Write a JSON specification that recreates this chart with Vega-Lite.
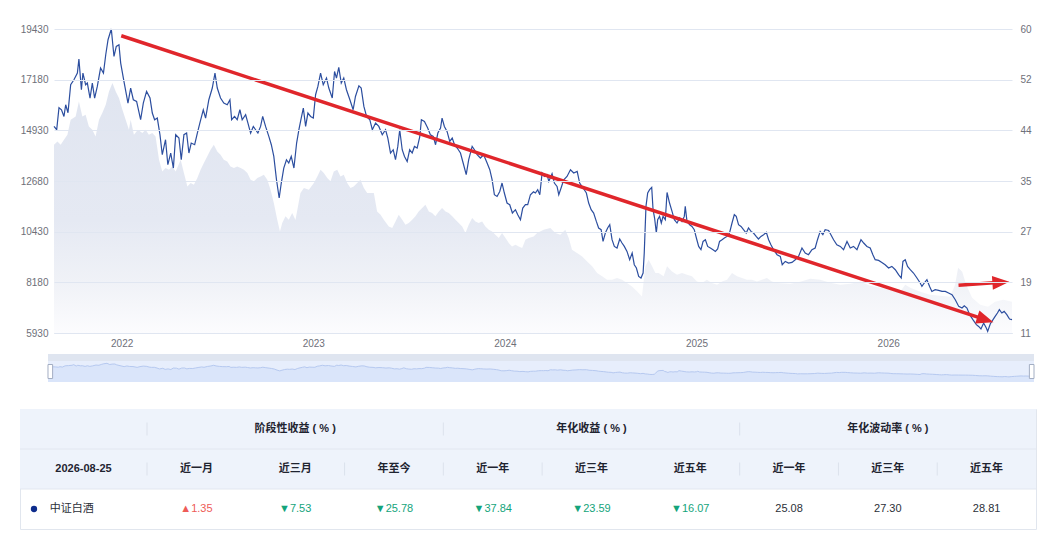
{
  "$schema": "https://vega.github.io/schema/vega-lite/v6.json",
  "background": "#ffffff",
  "padding": {"left": 19, "top": 24, "right": 10, "bottom": 10},
  "config": {
    "view": {"stroke": null},
    "font": "Liberation Sans, Noto Sans CJK SC",
    "axis": {"labelFont": "Liberation Sans, Noto Sans CJK SC"}
  },
  "datasets": {
    "index": [
      {"year":2021.647,"close":15103},{"year":2021.661,"close":14957},{"year":2021.673,"close":15933},{"year":2021.686,"close":15844},
      {"year":2021.699,"close":15547},{"year":2021.708,"close":16067},{"year":2021.720,"close":15711},{"year":2021.734,"close":16955},
      {"year":2021.751,"close":17177},{"year":2021.769,"close":17474},{"year":2021.777,"close":18096},{"year":2021.790,"close":16733},
      {"year":2021.798,"close":17474},{"year":2021.812,"close":16955},{"year":2021.821,"close":17030},{"year":2021.835,"close":16364},
      {"year":2021.847,"close":17030},{"year":2021.859,"close":16364},{"year":2021.873,"close":16879},{"year":2021.890,"close":17696},
      {"year":2021.905,"close":17474},{"year":2021.917,"close":18287},{"year":2021.929,"close":18953},{"year":2021.946,"close":19428},
      {"year":2021.960,"close":18211},{"year":2021.972,"close":18655},{"year":2021.986,"close":18731},{"year":2021.995,"close":17918},
      {"year":2022.012,"close":17101},{"year":2022.033,"close":16142},{"year":2022.047,"close":16808},{"year":2022.061,"close":16289},
      {"year":2022.078,"close":16213},{"year":2022.099,"close":15401},{"year":2022.113,"close":16142},{"year":2022.130,"close":16657},
      {"year":2022.148,"close":16364},{"year":2022.160,"close":15698},{"year":2022.172,"close":15401},{"year":2022.186,"close":15476},
      {"year":2022.200,"close":14735},{"year":2022.212,"close":13847},{"year":2022.229,"close":14513},{"year":2022.241,"close":13403},
      {"year":2022.256,"close":13922},{"year":2022.270,"close":13256},{"year":2022.282,"close":14735},{"year":2022.299,"close":14588},
      {"year":2022.311,"close":13625},{"year":2022.325,"close":14735},{"year":2022.339,"close":14810},{"year":2022.351,"close":13922},
      {"year":2022.363,"close":14366},{"year":2022.381,"close":14291},{"year":2022.395,"close":14810},{"year":2022.408,"close":15254},
      {"year":2022.426,"close":15844},{"year":2022.438,"close":15476},{"year":2022.455,"close":16289},{"year":2022.473,"close":16808},
      {"year":2022.487,"close":17474},{"year":2022.499,"close":16808},{"year":2022.516,"close":16364},{"year":2022.533,"close":16142},
      {"year":2022.551,"close":16067},{"year":2022.565,"close":16289},{"year":2022.574,"close":15401},{"year":2022.589,"close":15547},
      {"year":2022.603,"close":15401},{"year":2022.617,"close":15844},{"year":2022.629,"close":15401},{"year":2022.647,"close":15623},
      {"year":2022.659,"close":15254},{"year":2022.673,"close":14810},{"year":2022.687,"close":15103},{"year":2022.699,"close":14957},
      {"year":2022.711,"close":14810},{"year":2022.725,"close":15103},{"year":2022.736,"close":15547},{"year":2022.751,"close":15103},
      {"year":2022.768,"close":14659},{"year":2022.781,"close":14291},{"year":2022.794,"close":13771},{"year":2022.808,"close":12737},
      {"year":2022.822,"close":11924},{"year":2022.833,"close":12590},{"year":2022.846,"close":13256},{"year":2022.860,"close":13625},
      {"year":2022.872,"close":13478},{"year":2022.885,"close":13771},{"year":2022.899,"close":13256},{"year":2022.913,"close":14366},
      {"year":2022.925,"close":14957},{"year":2022.937,"close":15476},{"year":2022.948,"close":15920},{"year":2022.960,"close":15103},
      {"year":2022.972,"close":15698},{"year":2022.986,"close":15547},{"year":2023.000,"close":15476},{"year":2023.012,"close":16511},
      {"year":2023.024,"close":16879},{"year":2023.038,"close":17474},{"year":2023.052,"close":16955},{"year":2023.069,"close":17252},
      {"year":2023.081,"close":16808},{"year":2023.099,"close":16364},{"year":2023.111,"close":17545},{"year":2023.121,"close":17252},
      {"year":2023.133,"close":17723},{"year":2023.146,"close":17030},{"year":2023.159,"close":17252},{"year":2023.173,"close":16733},
      {"year":2023.191,"close":16289},{"year":2023.208,"close":15844},{"year":2023.220,"close":16435},{"year":2023.238,"close":16910},
      {"year":2023.250,"close":16808},{"year":2023.264,"close":15991},{"year":2023.278,"close":15547},{"year":2023.295,"close":15401},
      {"year":2023.308,"close":14957},{"year":2023.325,"close":15254},{"year":2023.342,"close":15103},{"year":2023.360,"close":14735},
      {"year":2023.377,"close":14957},{"year":2023.389,"close":14588},{"year":2023.403,"close":13922},{"year":2023.417,"close":14069},
      {"year":2023.429,"close":13625},{"year":2023.441,"close":14215},{"year":2023.451,"close":14957},{"year":2023.464,"close":14069},
      {"year":2023.476,"close":13771},{"year":2023.490,"close":13549},{"year":2023.503,"close":14069},{"year":2023.516,"close":13922},
      {"year":2023.528,"close":14215},{"year":2023.542,"close":14144},{"year":2023.556,"close":14659},{"year":2023.564,"close":15401},
      {"year":2023.580,"close":15325},{"year":2023.597,"close":15032},{"year":2023.611,"close":14735},{"year":2023.626,"close":14659},
      {"year":2023.638,"close":14291},{"year":2023.650,"close":14810},{"year":2023.664,"close":15032},{"year":2023.672,"close":15476},
      {"year":2023.684,"close":15103},{"year":2023.698,"close":14881},{"year":2023.712,"close":14437},{"year":2023.725,"close":14588},
      {"year":2023.737,"close":14291},{"year":2023.751,"close":14144},{"year":2023.768,"close":13922},{"year":2023.782,"close":13478},
      {"year":2023.798,"close":12959},{"year":2023.811,"close":13625},{"year":2023.829,"close":14215},{"year":2023.841,"close":14069},
      {"year":2023.855,"close":13847},{"year":2023.872,"close":13700},{"year":2023.889,"close":13847},{"year":2023.907,"close":13478},
      {"year":2023.921,"close":13181},{"year":2023.933,"close":12737},{"year":2023.945,"close":12071},{"year":2023.959,"close":11995},
      {"year":2023.973,"close":12217},{"year":2023.985,"close":12590},{"year":2023.997,"close":12146},{"year":2024.011,"close":11702},
      {"year":2024.025,"close":11627},{"year":2024.039,"close":11258},{"year":2024.055,"close":11405},{"year":2024.067,"close":11183},
      {"year":2024.081,"close":10961},{"year":2024.093,"close":11480},{"year":2024.107,"close":11627},{"year":2024.119,"close":11627},
      {"year":2024.133,"close":12071},{"year":2024.149,"close":12204},{"year":2024.159,"close":12146},{"year":2024.171,"close":12293},
      {"year":2024.182,"close":12071},{"year":2024.194,"close":13034},{"year":2024.206,"close":12883},{"year":2024.220,"close":12959},
      {"year":2024.229,"close":12661},{"year":2024.246,"close":13003},{"year":2024.258,"close":12590},{"year":2024.272,"close":12439},
      {"year":2024.281,"close":12071},{"year":2024.293,"close":12368},{"year":2024.307,"close":12737},{"year":2024.324,"close":12883},
      {"year":2024.342,"close":13181},{"year":2024.359,"close":13034},{"year":2024.377,"close":13105},{"year":2024.390,"close":12590},
      {"year":2024.408,"close":12368},{"year":2024.425,"close":12146},{"year":2024.437,"close":11702},{"year":2024.450,"close":11405},
      {"year":2024.463,"close":11258},{"year":2024.477,"close":10885},{"year":2024.489,"close":10592},{"year":2024.502,"close":10517},
      {"year":2024.512,"close":9997},{"year":2024.524,"close":10370},{"year":2024.536,"close":10592},{"year":2024.547,"close":10739},
      {"year":2024.559,"close":10073},{"year":2024.571,"close":9775},{"year":2024.585,"close":9704},{"year":2024.599,"close":10104},
      {"year":2024.611,"close":9926},{"year":2024.623,"close":9775},{"year":2024.637,"close":9553},{"year":2024.651,"close":9185},
      {"year":2024.664,"close":9482},{"year":2024.675,"close":8963},{"year":2024.686,"close":8816},{"year":2024.698,"close":8443},
      {"year":2024.710,"close":8372},{"year":2024.721,"close":8594},{"year":2024.727,"close":9482},{"year":2024.736,"close":11551},
      {"year":2024.745,"close":12146},{"year":2024.755,"close":12293},{"year":2024.766,"close":12395},{"year":2024.773,"close":11405},
      {"year":2024.781,"close":11036},{"year":2024.790,"close":10370},{"year":2024.797,"close":10961},{"year":2024.807,"close":11107},
      {"year":2024.816,"close":10814},{"year":2024.825,"close":11107},{"year":2024.837,"close":10961},{"year":2024.846,"close":12173},
      {"year":2024.859,"close":11702},{"year":2024.872,"close":11329},{"year":2024.884,"close":10961},{"year":2024.898,"close":10814},
      {"year":2024.912,"close":11036},{"year":2024.924,"close":10885},{"year":2024.936,"close":11107},{"year":2024.941,"close":11551},
      {"year":2024.950,"close":10885},{"year":2024.964,"close":10739},{"year":2024.976,"close":10663},{"year":2024.988,"close":10517},
      {"year":2024.999,"close":10148},{"year":2025.011,"close":9775},{"year":2025.023,"close":9629},{"year":2025.034,"close":9997},
      {"year":2025.046,"close":10073},{"year":2025.058,"close":9775},{"year":2025.072,"close":9704},{"year":2025.086,"close":9629},
      {"year":2025.098,"close":9553},{"year":2025.110,"close":9660},{"year":2025.120,"close":9997},{"year":2025.133,"close":10073},
      {"year":2025.145,"close":10148},{"year":2025.159,"close":10219},{"year":2025.172,"close":10370},{"year":2025.185,"close":10814},
      {"year":2025.197,"close":11183},{"year":2025.207,"close":11107},{"year":2025.219,"close":10739},{"year":2025.232,"close":10663},
      {"year":2025.245,"close":10517},{"year":2025.259,"close":10370},{"year":2025.271,"close":10592},{"year":2025.284,"close":10441},
      {"year":2025.297,"close":10370},{"year":2025.311,"close":10219},{"year":2025.323,"close":10104},{"year":2025.336,"close":10219},
      {"year":2025.350,"close":10295},{"year":2025.364,"close":10397},{"year":2025.376,"close":10073},{"year":2025.388,"close":9851},
      {"year":2025.402,"close":9629},{"year":2025.420,"close":9407},{"year":2025.437,"close":9331},{"year":2025.447,"close":8963},
      {"year":2025.463,"close":9109},{"year":2025.480,"close":9038},{"year":2025.498,"close":9065},{"year":2025.515,"close":9185},
      {"year":2025.532,"close":9331},{"year":2025.550,"close":9704},{"year":2025.567,"close":9482},{"year":2025.584,"close":9407},
      {"year":2025.602,"close":9629},{"year":2025.619,"close":9704},{"year":2025.631,"close":10073},{"year":2025.645,"close":10441},
      {"year":2025.659,"close":10295},{"year":2025.671,"close":10517},{"year":2025.689,"close":10485},{"year":2025.701,"close":10295},
      {"year":2025.715,"close":10073},{"year":2025.732,"close":9851},{"year":2025.750,"close":9775},{"year":2025.767,"close":9629},
      {"year":2025.785,"close":9997},{"year":2025.802,"close":9704},{"year":2025.819,"close":9775},{"year":2025.837,"close":9629},
      {"year":2025.845,"close":9806},{"year":2025.858,"close":10073},{"year":2025.872,"close":9926},{"year":2025.889,"close":9775},
      {"year":2025.906,"close":9704},{"year":2025.920,"close":9407},{"year":2025.932,"close":9185},{"year":2025.950,"close":9153},
      {"year":2025.967,"close":9065},{"year":2025.984,"close":8963},{"year":2026.002,"close":8816},{"year":2026.019,"close":8887},
      {"year":2026.037,"close":8741},{"year":2026.054,"close":8519},{"year":2026.068,"close":8372},{"year":2026.077,"close":9109},
      {"year":2026.089,"close":9185},{"year":2026.101,"close":8887},{"year":2026.115,"close":8741},{"year":2026.132,"close":8594},
      {"year":2026.150,"close":8372},{"year":2026.167,"close":8150},{"year":2026.176,"close":7999},{"year":2026.188,"close":8150},
      {"year":2026.202,"close":8297},{"year":2026.216,"close":7999},{"year":2026.228,"close":7777},{"year":2026.245,"close":7853},
      {"year":2026.263,"close":7821},{"year":2026.281,"close":7777},{"year":2026.298,"close":7777},{"year":2026.315,"close":7706},
      {"year":2026.333,"close":7631},{"year":2026.350,"close":7409},{"year":2026.368,"close":7111},{"year":2026.385,"close":7040},
      {"year":2026.397,"close":7142},{"year":2026.411,"close":7040},{"year":2026.425,"close":6743},{"year":2026.442,"close":6521},
      {"year":2026.460,"close":6299},{"year":2026.472,"close":6223},{"year":2026.484,"close":6108},{"year":2026.498,"close":6374},
      {"year":2026.512,"close":6152},{"year":2026.519,"close":6001},{"year":2026.533,"close":6343},{"year":2026.547,"close":6521},
      {"year":2026.558,"close":6667},{"year":2026.570,"close":6818},{"year":2026.580,"close":6965},{"year":2026.593,"close":6818},
      {"year":2026.605,"close":6889},{"year":2026.619,"close":6743},{"year":2026.633,"close":6552},{"year":2026.646,"close":6521}
    ],
    "pe": [
      {"year":2021.647,"pe":41.35},{"year":2021.665,"pe":41.88},{"year":2021.682,"pe":41.35},{"year":2021.699,"pe":42.16},
      {"year":2021.717,"pe":42.97},{"year":2021.734,"pe":45.38},{"year":2021.760,"pe":45.91},{"year":2021.777,"pe":48.33},
      {"year":2021.795,"pe":45.91},{"year":2021.812,"pe":46.19},{"year":2021.829,"pe":44.30},{"year":2021.847,"pe":43.77},
      {"year":2021.864,"pe":42.69},{"year":2021.882,"pe":45.38},{"year":2021.899,"pe":46.46},{"year":2021.917,"pe":47.80},
      {"year":2021.934,"pe":49.94},{"year":2021.952,"pe":51.30},{"year":2021.969,"pe":49.94},{"year":2021.986,"pe":48.88},
      {"year":2022.004,"pe":46.99},{"year":2022.021,"pe":45.38},{"year":2022.038,"pe":43.77},{"year":2022.047,"pe":45.38},
      {"year":2022.064,"pe":42.97},{"year":2022.085,"pe":43.77},{"year":2022.108,"pe":43.24},{"year":2022.125,"pe":43.77},
      {"year":2022.142,"pe":42.97},{"year":2022.160,"pe":43.24},{"year":2022.177,"pe":42.69},{"year":2022.195,"pe":38.93},
      {"year":2022.212,"pe":37.05},{"year":2022.229,"pe":37.60},{"year":2022.247,"pe":37.32},{"year":2022.264,"pe":37.85},
      {"year":2022.282,"pe":37.05},{"year":2022.308,"pe":38.93},{"year":2022.325,"pe":36.79},{"year":2022.343,"pe":34.63},
      {"year":2022.360,"pe":35.18},{"year":2022.377,"pe":34.90},{"year":2022.395,"pe":35.98},{"year":2022.412,"pe":37.32},
      {"year":2022.429,"pe":38.40},{"year":2022.447,"pe":39.47},{"year":2022.464,"pe":40.55},{"year":2022.481,"pe":41.35},
      {"year":2022.499,"pe":40.27},{"year":2022.516,"pe":39.74},{"year":2022.533,"pe":38.93},{"year":2022.551,"pe":38.66},
      {"year":2022.568,"pe":37.85},{"year":2022.586,"pe":37.60},{"year":2022.603,"pe":37.85},{"year":2022.621,"pe":37.60},
      {"year":2022.638,"pe":37.32},{"year":2022.656,"pe":36.79},{"year":2022.673,"pe":35.71},{"year":2022.690,"pe":35.44},
      {"year":2022.708,"pe":35.98},{"year":2022.725,"pe":36.24},{"year":2022.742,"pe":36.52},{"year":2022.760,"pe":35.71},
      {"year":2022.777,"pe":34.10},{"year":2022.794,"pe":31.95},{"year":2022.812,"pe":29.26},{"year":2022.826,"pe":27.38},
      {"year":2022.838,"pe":28.73},{"year":2022.855,"pe":29.80},{"year":2022.872,"pe":29.26},{"year":2022.890,"pe":30.34},
      {"year":2022.907,"pe":29.20},{"year":2022.933,"pe":33.57},{"year":2022.951,"pe":34.37},{"year":2022.977,"pe":34.10},
      {"year":2023.003,"pe":35.18},{"year":2023.021,"pe":36.24},{"year":2023.038,"pe":37.32},{"year":2023.055,"pe":36.79},
      {"year":2023.073,"pe":35.98},{"year":2023.090,"pe":35.44},{"year":2023.107,"pe":37.05},{"year":2023.125,"pe":37.32},
      {"year":2023.142,"pe":36.24},{"year":2023.159,"pe":36.52},{"year":2023.177,"pe":35.18},{"year":2023.194,"pe":34.37},
      {"year":2023.211,"pe":34.63},{"year":2023.229,"pe":35.18},{"year":2023.246,"pe":35.71},{"year":2023.264,"pe":34.37},
      {"year":2023.281,"pe":33.57},{"year":2023.299,"pe":33.57},{"year":2023.316,"pe":33.57},{"year":2023.333,"pe":30.60},
      {"year":2023.351,"pe":30.07},{"year":2023.368,"pe":29.26},{"year":2023.394,"pe":28.18},{"year":2023.412,"pe":27.92},
      {"year":2023.429,"pe":28.99},{"year":2023.446,"pe":30.07},{"year":2023.464,"pe":29.26},{"year":2023.481,"pe":28.46},
      {"year":2023.498,"pe":28.73},{"year":2023.516,"pe":29.26},{"year":2023.533,"pe":29.80},{"year":2023.550,"pe":30.60},
      {"year":2023.568,"pe":31.15},{"year":2023.585,"pe":31.68},{"year":2023.603,"pe":30.60},{"year":2023.620,"pe":30.34},
      {"year":2023.637,"pe":29.80},{"year":2023.655,"pe":30.60},{"year":2023.672,"pe":31.15},{"year":2023.690,"pe":30.60},
      {"year":2023.707,"pe":30.34},{"year":2023.725,"pe":29.80},{"year":2023.742,"pe":29.26},{"year":2023.759,"pe":28.73},
      {"year":2023.777,"pe":28.18},{"year":2023.794,"pe":27.12},{"year":2023.811,"pe":28.46},{"year":2023.829,"pe":29.54},
      {"year":2023.846,"pe":28.99},{"year":2023.863,"pe":28.73},{"year":2023.881,"pe":28.99},{"year":2023.898,"pe":28.18},
      {"year":2023.916,"pe":27.65},{"year":2023.933,"pe":27.38},{"year":2023.950,"pe":26.84},{"year":2023.968,"pe":26.30},
      {"year":2023.985,"pe":27.12},{"year":2024.003,"pe":26.30},{"year":2024.020,"pe":25.51},{"year":2024.037,"pe":24.96},
      {"year":2024.055,"pe":25.23},{"year":2024.072,"pe":24.96},{"year":2024.090,"pe":24.70},{"year":2024.107,"pe":26.04},
      {"year":2024.124,"pe":26.30},{"year":2024.150,"pe":26.57},{"year":2024.168,"pe":27.12},{"year":2024.202,"pe":27.65},
      {"year":2024.237,"pe":27.92},{"year":2024.263,"pe":27.12},{"year":2024.289,"pe":26.84},{"year":2024.315,"pe":27.65},
      {"year":2024.333,"pe":26.30},{"year":2024.350,"pe":24.43},{"year":2024.376,"pe":23.90},{"year":2024.403,"pe":23.35},
      {"year":2024.429,"pe":22.54},{"year":2024.455,"pe":21.74},{"year":2024.481,"pe":20.67},{"year":2024.507,"pe":20.13},
      {"year":2024.533,"pe":19.59},{"year":2024.559,"pe":19.59},{"year":2024.585,"pe":19.87},{"year":2024.611,"pe":19.59},
      {"year":2024.637,"pe":19.06},{"year":2024.663,"pe":18.51},{"year":2024.689,"pe":17.71},{"year":2024.715,"pe":16.90},
      {"year":2024.733,"pe":21.74},{"year":2024.750,"pe":22.81},{"year":2024.768,"pe":21.74},{"year":2024.785,"pe":20.67},
      {"year":2024.802,"pe":20.67},{"year":2024.828,"pe":20.13},{"year":2024.846,"pe":21.74},{"year":2024.872,"pe":20.93},
      {"year":2024.898,"pe":20.40},{"year":2024.924,"pe":20.67},{"year":2024.950,"pe":20.40},{"year":2024.976,"pe":20.13},
      {"year":2025.002,"pe":19.32},{"year":2025.028,"pe":19.06},{"year":2025.054,"pe":19.59},{"year":2025.080,"pe":19.06},
      {"year":2025.107,"pe":18.79},{"year":2025.133,"pe":19.32},{"year":2025.159,"pe":19.59},{"year":2025.185,"pe":20.67},
      {"year":2025.211,"pe":20.13},{"year":2025.237,"pe":19.87},{"year":2025.263,"pe":19.59},{"year":2025.289,"pe":19.59},
      {"year":2025.315,"pe":19.32},{"year":2025.341,"pe":19.59},{"year":2025.367,"pe":19.87},{"year":2025.393,"pe":19.32},
      {"year":2025.420,"pe":19.06},{"year":2025.489,"pe":18.95},{"year":2025.541,"pe":19.27},{"year":2025.593,"pe":19.75},
      {"year":2025.645,"pe":19.59},{"year":2025.697,"pe":19.11},{"year":2025.750,"pe":18.79},{"year":2025.802,"pe":18.95},
      {"year":2025.854,"pe":19.27},{"year":2025.906,"pe":18.63},{"year":2025.958,"pe":18.30},{"year":2026.010,"pe":17.98},
      {"year":2026.062,"pe":17.66},{"year":2026.089,"pe":18.79},{"year":2026.115,"pe":18.30},{"year":2026.167,"pe":17.66},
      {"year":2026.219,"pe":17.18},{"year":2026.271,"pe":17.02},{"year":2026.323,"pe":16.85},{"year":2026.349,"pe":18.79},
      {"year":2026.365,"pe":21.53},{"year":2026.386,"pe":20.88},{"year":2026.407,"pe":18.79},{"year":2026.438,"pe":16.69},
      {"year":2026.480,"pe":15.56},{"year":2026.521,"pe":15.24},{"year":2026.558,"pe":16.05},{"year":2026.600,"pe":16.37},
      {"year":2026.646,"pe":16.05}
    ],
    "arrows": [
      {"arrow":"trend","end":"tail","year":2021.998,"close":19130},
      {"arrow":"trend","end":"head","year":2026.507,"close":6521},
      {"arrow":"pe","end":"tail","year":2026.367,"close":8052},
      {"arrow":"pe","end":"head","year":2026.588,"close":8181}
    ],
    "window": [{"start":2021.647,"end":2026.646}],
    "table_rows": [
      {"row":"h1","kind":"header"},
      {"row":"h2","kind":"header"},
      {"row":"d","kind":"data"}
    ],
    "groups": [
      {"row":"h1","group":"stage","label":"阶段性收益 ( % )"},
      {"row":"h1","group":"annual","label":"年化收益 ( % )"},
      {"row":"h1","group":"vol","label":"年化波动率 ( % )"}
    ],
    "cells": [
      {"row":"h2","col":"m1","label":"近一月","trend":"none"},
      {"row":"h2","col":"m3","label":"近三月","trend":"none"},
      {"row":"h2","col":"ytd","label":"年至今","trend":"none"},
      {"row":"h2","col":"r1","label":"近一年","trend":"none"},
      {"row":"h2","col":"r3","label":"近三年","trend":"none"},
      {"row":"h2","col":"r5","label":"近五年","trend":"none"},
      {"row":"h2","col":"v1","label":"近一年","trend":"none"},
      {"row":"h2","col":"v3","label":"近三年","trend":"none"},
      {"row":"h2","col":"v5","label":"近五年","trend":"none"},
      {"row":"d","col":"m1","label":"▲1.35","trend":"up"},
      {"row":"d","col":"m3","label":"▼7.53","trend":"down"},
      {"row":"d","col":"ytd","label":"▼25.78","trend":"down"},
      {"row":"d","col":"r1","label":"▼37.84","trend":"down"},
      {"row":"d","col":"r3","label":"▼23.59","trend":"down"},
      {"row":"d","col":"r5","label":"▼16.07","trend":"down"},
      {"row":"d","col":"v1","label":"25.08","trend":"none"},
      {"row":"d","col":"v3","label":"27.30","trend":"none"},
      {"row":"d","col":"v5","label":"28.81","trend":"none"}
    ],
    "separators": [
      {"row":"h2","col":"m1"},{"row":"h2","col":"ytd"},{"row":"h2","col":"r1"},{"row":"h2","col":"r3"},
      {"row":"h2","col":"v1"},{"row":"h2","col":"v3"},{"row":"h2","col":"v5"}
    ],
    "lead": [
      {"row":"h2","part":"lead","label":"2026-08-25"},
      {"row":"d","part":"lead","label":"中证白酒"}
    ]
  },
  "concat": [
    {
      "concat": [
        {
          "width": 992,
          "height": 304,
          "layer": [
            {
              "data": {"name": "pe"},
              "mark": {
                "type": "area",
                "color": {
                  "gradient": "linear", "x1": 0, "y1": 0, "x2": 0, "y2": 1,
                  "stops": [
                    {"offset": 0, "color": "#e0e5f0"},
                    {"offset": 0.55, "color": "#e5e9f3"},
                    {"offset": 0.8, "color": "#f0f2f7"},
                    {"offset": 1, "color": "#fcfcfe"}
                  ]
                }
              },
              "encoding": {
                "x": {
                  "field": "year", "type": "quantitative",
                  "scale": {"domain": [2021.647, 2026.646], "range": [34, 992], "nice": false, "zero": false},
                  "axis": {
                    "values": [2022, 2023, 2024, 2025, 2026], "format": "d", "title": null,
                    "grid": false, "ticks": false, "domainColor": "#d5dae4",
                    "labelColor": "#6e7079", "labelFontSize": 10, "labelPadding": 5
                  }
                },
                "y": {
                  "field": "pe", "type": "quantitative",
                  "scale": {"domain": [11, 60], "nice": false, "zero": false},
                  "axis": {
                    "orient": "right", "title": null,
                    "values": [11, 19.1667, 27.3333, 35.5, 43.6667, 51.8333, 60],
                    "labelExpr": "abs(datum.value - 35.5) < 0.01 ? '35' : format(datum.value, '.0f')",
                    "domain": false, "ticks": false, "grid": false,
                    "labelColor": "#6e7079", "labelFontSize": 10, "labelPadding": 8
                  }
                },
                "y2": {"datum": 11}
              }
            },
            {
              "layer": [
                {
                  "data": {"name": "index"},
                  "mark": {"type": "line", "color": "#2c4e9f", "strokeWidth": 1.2},
                  "encoding": {
                    "x": {"field": "year", "type": "quantitative"},
                    "y": {
                      "field": "close", "type": "quantitative",
                      "scale": {"domain": [5930, 19430], "nice": false, "zero": false},
                      "axis": {
                        "title": null, "format": "d", "offset": -34,
                        "values": [5930, 8180, 10430, 12680, 14930, 17180, 19430],
                        "domain": false, "ticks": false, "grid": true, "gridColor": "#e0e6f1",
                        "labelColor": "#6e7079", "labelFontSize": 10, "labelPadding": 6,
                        "zindex": 1
                      }
                    }
                  }
                },
                {
                  "data": {"name": "arrows"},
                  "mark": {"type": "line", "color": "#e0262b", "strokeWidth": 3.5},
                  "encoding": {
                    "x": {"field": "year", "type": "quantitative"},
                    "y": {"field": "close", "type": "quantitative"},
                    "detail": {"field": "arrow", "type": "nominal"}
                  }
                },
                {
                  "data": {"name": "arrows"},
                  "transform": [{"filter": "datum.arrow == 'trend' && datum.end == 'head'"}],
                  "mark": {"type": "point", "shape": "M1,0L-1,-0.8L-1,0.8Z", "size": 289, "angle": 18.2, "filled": true, "color": "#e0262b", "opacity": 1},
                  "encoding": {
                    "x": {"field": "year", "type": "quantitative"},
                    "y": {"field": "close", "type": "quantitative"}
                  }
                },
                {
                  "data": {"name": "arrows"},
                  "transform": [{"filter": "datum.arrow == 'pe' && datum.end == 'head'"}],
                  "mark": {"type": "point", "shape": "M1,0L-1,-0.8L-1,0.8Z", "size": 289, "angle": 356.1, "filled": true, "color": "#e0262b", "opacity": 1},
                  "encoding": {
                    "x": {"field": "year", "type": "quantitative"},
                    "y": {"field": "close", "type": "quantitative"}
                  }
                }
              ]
            }
          ],
          "resolve": {"scale": {"y": "independent"}}
        },
        {
          "vconcat": [
            {
              "width": 1016,
              "height": 7,
              "data": {"name": "window"},
              "mark": {"type": "rect", "color": "#dfe5f0"},
              "encoding": {
                "x": {"field": "start", "type": "quantitative", "scale": {"domain": [2021.647, 2026.646], "range": [28, 1014], "nice": false, "zero": false}, "axis": null},
                "x2": {"field": "end"}
              }
            },
            {
              "width": 1016,
              "height": 21,
              "layer": [
                {
                  "data": {"name": "window"},
                  "mark": {"type": "rect", "color": "#e7eefc"},
                  "encoding": {
                    "x": {"field": "start", "type": "quantitative", "scale": {"domain": [2021.647, 2026.646], "range": [28, 1014], "nice": false, "zero": false}, "axis": null},
                    "x2": {"field": "end"}
                  }
                },
                {
                  "data": {"name": "index"},
                  "mark": {"type": "area", "color": "#d4e1fa", "line": {"color": "#b6c9f0", "strokeWidth": 1}},
                  "encoding": {
                    "x": {"field": "year", "type": "quantitative", "axis": null},
                    "y": {"field": "close", "type": "quantitative", "scale": {"domain": [973, 21700], "nice": false, "zero": false}, "axis": null},
                    "y2": {"datum": 973}
                  }
                },
                {
                  "data": {"name": "window"},
                  "mark": {"type": "point", "shape": "M-0.33,-1L0.33,-1L0.33,1L-0.33,1Z", "size": 196, "filled": true, "fill": "#ffffff", "stroke": "#a3aec3", "strokeWidth": 1, "opacity": 1, "xOffset": 2.3},
                  "encoding": {"x": {"field": "start", "type": "quantitative", "axis": null}}
                },
                {
                  "data": {"name": "window"},
                  "mark": {"type": "point", "shape": "M-0.33,-1L0.33,-1L0.33,1L-0.33,1Z", "size": 196, "filled": true, "fill": "#ffffff", "stroke": "#a3aec3", "strokeWidth": 1, "opacity": 1, "xOffset": -2.3},
                  "encoding": {"x": {"field": "end", "type": "quantitative", "axis": null}}
                }
              ]
            }
          ],
          "spacing": 0,
          "resolve": {"scale": {"x": "independent", "y": "independent"}}
        }
      ],
      "columns": 1,
      "align": "none",
      "spacing": 6,
      "resolve": {"scale": {"x": "independent", "y": "independent"}}
    },
    {
      "width": 1016,
      "height": 120,
      "view": {"stroke": "#e1e6ee", "strokeWidth": 1},
      "layer": [
        {
          "data": {"name": "table_rows"},
          "transform": [{"filter": "datum.kind == 'header'"}],
          "mark": {"type": "rect", "color": "#eef3fb"},
          "encoding": {
            "y": {"field": "row", "type": "nominal", "scale": {"domain": ["h1", "h2", "d"], "paddingInner": 0, "paddingOuter": 0}, "axis": null}
          }
        },
        {
          "data": {"name": "table_rows"},
          "transform": [{"filter": "datum.row != 'h1'"}],
          "mark": {"type": "rule", "color": "#e2e7f0", "strokeWidth": 1},
          "encoding": {
            "y": {"field": "row", "type": "nominal", "bandPosition": 0, "axis": null}
          }
        },
        {
          "data": {"name": "groups"},
          "mark": {"type": "text", "fontSize": 11, "fontWeight": "bold", "color": "#1f2430"},
          "encoding": {
            "x": {"field": "group", "type": "nominal", "scale": {"domain": ["stage", "annual", "vol"], "range": [127, 1016], "paddingInner": 0, "paddingOuter": 0}, "axis": null},
            "y": {"field": "row", "type": "nominal", "axis": null},
            "text": {"field": "label"}
          }
        },
        {
          "data": {"name": "groups"},
          "mark": {"type": "tick", "orient": "vertical", "size": 13, "thickness": 1, "color": "#dce2ec", "opacity": 1},
          "encoding": {
            "x": {"field": "group", "type": "nominal", "bandPosition": 0, "scale": {"domain": ["stage", "annual", "vol"], "range": [127, 1016], "paddingInner": 0, "paddingOuter": 0}, "axis": null},
            "y": {"field": "row", "type": "nominal", "axis": null}
          }
        },
        {
          "data": {"name": "cells"},
          "transform": [{"filter": "datum.row == 'h2'"}],
          "mark": {"type": "text", "fontSize": 11, "fontWeight": "bold", "color": "#1f2430"},
          "encoding": {
            "x": {"field": "col", "type": "nominal", "scale": {"domain": ["m1", "m3", "ytd", "r1", "r3", "r5", "v1", "v3", "v5"], "range": [127, 1016], "paddingInner": 0, "paddingOuter": 0}, "axis": null},
            "y": {"field": "row", "type": "nominal", "axis": null},
            "text": {"field": "label"}
          }
        },
        {
          "data": {"name": "cells"},
          "transform": [{"filter": "datum.row == 'd'"}],
          "mark": {"type": "text", "fontSize": 11},
          "encoding": {
            "x": {"field": "col", "type": "nominal", "scale": {"domain": ["m1", "m3", "ytd", "r1", "r3", "r5", "v1", "v3", "v5"], "range": [127, 1016], "paddingInner": 0, "paddingOuter": 0}, "axis": null},
            "y": {"field": "row", "type": "nominal", "axis": null},
            "text": {"field": "label"},
            "color": {"field": "trend", "type": "nominal", "scale": {"domain": ["up", "down", "none"], "range": ["#ee5b57", "#14a47b", "#2b2f38"]}, "legend": null}
          }
        },
        {
          "data": {"name": "separators"},
          "mark": {"type": "tick", "orient": "vertical", "size": 13, "thickness": 1, "color": "#dce2ec", "opacity": 1},
          "encoding": {
            "x": {"field": "col", "type": "nominal", "bandPosition": 0, "scale": {"domain": ["m1", "m3", "ytd", "r1", "r3", "r5", "v1", "v3", "v5"], "range": [127, 1016], "paddingInner": 0, "paddingOuter": 0}, "axis": null},
            "y": {"field": "row", "type": "nominal", "axis": null}
          }
        },
        {
          "data": {"name": "lead"},
          "transform": [{"filter": "datum.row == 'h2'"}],
          "mark": {"type": "text", "fontSize": 11, "fontWeight": "bold", "color": "#1f2430"},
          "encoding": {
            "x": {"field": "part", "type": "nominal", "scale": {"domain": ["lead"], "range": [0, 127], "paddingInner": 0, "paddingOuter": 0}, "axis": null},
            "y": {"field": "row", "type": "nominal", "axis": null},
            "text": {"field": "label"}
          }
        },
        {
          "data": {"name": "lead"},
          "transform": [{"filter": "datum.row == 'd'"}],
          "mark": {"type": "text", "fontSize": 11, "color": "#2b2f38", "align": "left", "dx": -33.8},
          "encoding": {
            "x": {"field": "part", "type": "nominal", "scale": {"domain": ["lead"], "range": [0, 127], "paddingInner": 0, "paddingOuter": 0}, "axis": null},
            "y": {"field": "row", "type": "nominal", "axis": null},
            "text": {"field": "label"}
          }
        },
        {
          "data": {"name": "lead"},
          "transform": [{"filter": "datum.row == 'd'"}],
          "mark": {"type": "point", "filled": true, "size": 40, "color": "#0d2c8c", "opacity": 1, "xOffset": -49.5},
          "encoding": {
            "x": {"field": "part", "type": "nominal", "scale": {"domain": ["lead"], "range": [0, 127], "paddingInner": 0, "paddingOuter": 0}, "axis": null},
            "y": {"field": "row", "type": "nominal", "axis": null}
          }
        }
      ],
      "resolve": {"scale": {"x": "independent"}}
    }
  ],
  "columns": 1,
  "align": "none",
  "spacing": 26,
  "resolve": {"scale": {"x": "independent", "y": "independent"}}
}
